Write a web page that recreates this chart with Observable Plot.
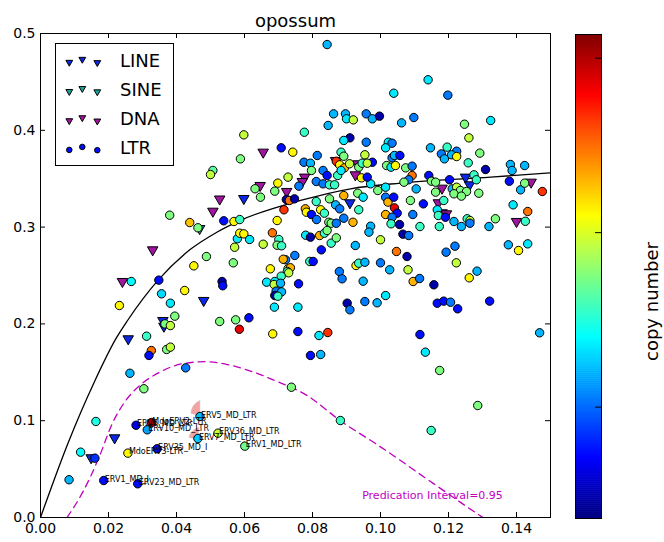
<!DOCTYPE html>
<html><head><meta charset="utf-8">
<script src="https://cdn.jsdelivr.net/npm/d3@7"></script>
<script src="https://cdn.jsdelivr.net/npm/@observablehq/plot@0.6"></script>
<style>html,body{margin:0;padding:0;background:#fff}#wrap{position:relative;width:664px;height:542px;overflow:hidden;font-family:"DejaVu Sans"}#wrap svg{position:absolute;top:0}</style>
</head><body><div id="wrap"></div>
<script>
// ---- data ----
const titleText = "opossum";
const xTicks = [0, 0.02, 0.04, 0.06, 0.08, 0.10, 0.12, 0.14];
const yTicks = [0, 0.1, 0.2, 0.3, 0.4, 0.5];
const cbTicks = [100, 1000, 10000];
const cbTickLabels = ["10²", "10³", "10⁴"];
const copyMin = 23, copyMax = 13670;
const colorbarLabel = "copy number";
const legendNames = ["LINE", "SINE", "DNA", "LTR"];

const ltrX = [0.0304,0.0163,0.0118,0.016,0.0084,0.0186,0.0286,0.0257,0.0343,0.0281,0.0326,0.0314,0.0469,0.0463,0.0522,0.0601,
0.0588,0.0507,0.05,0.038,0.0439,0.0463,0.0539,0.0569,0.0586,0.0579,0.0586,0.0571,0.0488,0.0567,0.0451,0.0267,0.0348,0.0534,0.0536,0.0424,0.0356,0.0382,0.0232,0.0395,0.0366,0.0382,0.0527,0.0574,0.0585,0.0312,0.0371,0.0382,0.0326,0.0319,0.0263,0.0427,0.0598,0.0598,0.0615,0.0613,
0.0843,0.0862,0.0897,0.09,0.092,0.0846,0.0776,0.091,0.0892,0.0708,0.0742,0.0814,0.0884,0.0892,0.0775,0.0794,0.0797,0.087,0.088,0.0894,0.0909,0.0936,0.0831,0.0843,0.0874,0.0884,0.0631,0.0647,0.0698,0.0728,0.0689,0.076,0.0811,0.0831,0.085,0.0865,0.0723,0.0732,0.0747,0.0716,0.0696,0.0811,0.085,0.0892,0.0933,0.0779,0.0782,0.0797,0.0824,0.0835,0.0812,0.0868,0.088,0.0892,0.0919,0.0936,0.0848,0.0855,0.087,
0.114,0.1039,0.1198,0.0958,0.0976,0.0997,0.1062,0.1098,0.1247,0.1324,0.126,0.0958,0.1023,0.1034,0.1015,0.1147,0.1196,0.1224,0.0976,0.1018,0.1031,0.1044,0.1034,0.1041,0.1057,0.1074,0.1093,0.0971,0.1093,0.1083,0.1142,0.1179,0.1188,0.1209,0.1224,0.1258,0.1292,0.1309,0.1275,0.1282,0.1203,0.115,0.1162,0.1162,0.1211,0.1224,0.1235,0.1253,0.1216,0.1238,0.1289,0.1105,0.1015,0.0992,0.1015,0.1022,0.1039,0.1088,0.1126,0.1186,0.1015,0.1041,0.1049,0.1034,0.1095,0.1116,0.1167,0.117,0.1191,0.1216,0.1255,0.1263,0.1338,0.1319,0.1069,0.1382,0.1387,0.1424,0.1379,0.1412,0.1424,0.1476,0.139,0.1433,0.1426,0.0954,0.0946,0.0961,0.0944,0.0961,0.0949,0.0971,0.1031,0.1056,0.1173,0.1238,0.1263,
0.0655,0.0682,0.0701,0.0696,0.0709,0.078,0.0794,0.0821,0.0835,0.0843,0.0855,0.087,0.0826,0.0748,0.0792,0.0802,0.0721,0.0714,0.0676,0.0728,0.0735,0.0726,0.073,0.0708,0.0665,0.0689,0.0687,0.0706,0.0693,0.0709,0.0689,0.0698,0.0759,0.0688,0.0757,0.0757,0.0683,0.0819,0.0845,0.0794,0.0824,0.0879,0.0887,0.0902,0.091,0.0928,0.0936,0.0926,
0.0966,0.1,0.1047,0.1078,0.0954,0.1,0.1027,0.1081,0.0949,0.1096,0.1115,0.1157,0.0954,0.099,0.1015,0.1167,0.1186,0.1206,0.1227,0.1193,0.1219,0.1223,0.1284,0.1261,0.1321,0.1376,0.1406,0.1433,0.1468,0.1116,0.1132,0.1066,0.1083,
0.1174,0.0738,0.0882,0.1286,0.1149];
const ltrY = [0.133,0.0992,0.0675,0.0613,0.039,0.0382,0.0348,0.0665,0.071,0.0953,0.0981,0.0906,0.1043,0.0816,0.0871,0.0737,
0.3705,0.3585,0.3543,0.3123,0.3047,0.2993,0.3065,0.3058,0.3078,0.288,0.2937,0.2792,0.2696,0.2631,0.26,0.2438,0.2452,0.2438,0.2394,0.2345,0.2311,0.2214,0.219,0.208,0.2,0.1983,0.2025,0.2042,0.1945,0.1873,0.1736,0.176,0.1725,0.1674,0.149,0.1546,0.3953,0.293,0.2872,0.2063,
0.4886,0.417,0.417,0.4119,0.4108,0.405,0.398,0.3922,0.3895,0.3819,0.3774,0.374,0.3774,0.3732,0.367,0.366,0.3585,0.368,0.3643,0.3612,0.3654,0.3619,0.3585,0.3533,0.3533,0.3585,0.3396,0.3309,0.3454,0.3516,0.3371,0.3423,0.3471,0.3447,0.3437,0.3437,0.3285,0.3275,0.3292,0.3179,0.3068,0.3264,0.3292,0.3326,0.335,0.3189,0.3154,0.313,0.3179,0.3144,0.3078,0.323,0.3189,0.3092,0.305,0.3179,0.305,0.304,0.304,
0.4522,0.4383,0.4363,0.417,0.4119,0.4146,0.4077,0.4132,0.4063,0.4101,0.3922,0.3877,0.3877,0.3867,0.3819,0.3819,0.3826,0.3784,0.367,0.3636,0.3619,0.3636,0.3716,0.374,0.374,0.3612,0.3629,0.3447,0.3533,0.3489,0.3533,0.3756,0.3705,0.3747,0.3729,0.3664,0.3764,0.3595,0.354,0.3489,0.3489,0.3474,0.3464,0.3361,0.3395,0.3412,0.3378,0.3368,0.3344,0.332,0.335,0.3395,0.3412,0.3378,0.3309,0.3258,0.3309,0.3275,0.324,0.3275,0.313,0.3199,0.3144,0.3102,0.313,0.3006,0.3179,0.312,0.3102,0.3058,0.3086,0.3068,0.3086,0.3006,0.3464,0.3647,0.3585,0.3636,0.3474,0.3385,0.3454,0.3368,0.323,0.3161,0.306,0.3747,0.366,0.366,0.3509,0.3516,0.3309,0.3009,0.3034,0.3027,0.3006,0.3006,0.304,
0.2823,0.2941,0.2872,0.2813,0.2807,0.2916,0.2896,0.2913,0.2937,0.2965,0.2834,0.2889,0.2765,0.2707,0.2645,0.2645,0.2662,0.2668,0.2569,0.2569,0.258,0.2541,0.2528,0.2493,0.2431,0.2438,0.2407,0.242,0.2338,0.2331,0.2293,0.2286,0.2414,0.2173,0.2173,0.1921,0.1897,0.188,0.1911,0.1674,0.1684,0.2541,0.2466,0.2214,0.2146,0.2603,0.2627,0.281,
0.2948,0.2869,0.2748,0.2696,0.2637,0.2631,0.2559,0.2559,0.2441,0.2438,0.2469,0.2404,0.2231,0.2218,0.2293,0.2214,0.2235,0.2224,0.2156,0.2741,0.2803,0.2631,0.2545,0.2476,0.2235,0.2817,0.2758,0.2827,0.1908,0.189,0.1708,0.2927,0.2913,
0.1519,0.1346,0.1002,0.1157,0.0899];
const ltrCopy = [560,300,250,70,160,55,55,1300,55,45,11000,140,170,180,900,500,
560,450,850,560,1800,560,55,1300,360,220,1300,850,560,560,1300,250,55,30,55,1300,200,220,1300,560,560,850,560,560,7000,360,560,850,3000,55,160,110,850,1300,220,55,
160,160,160,220,850,160,360,30,220,55,1300,110,360,560,110,160,560,4500,1300,2000,850,560,110,55,360,220,560,560,1300,850,560,110,110,110,360,360,30,3000,30,4500,1300,360,560,2000,560,2000,1300,55,1300,360,110,160,110,110,2000,360,560,560,110,
220,220,110,110,160,30,160,110,560,220,850,110,220,110,220,160,360,110,55,560,220,1300,110,160,55,560,110,220,3000,110,55,110,160,160,1300,360,560,30,360,360,55,560,560,560,160,850,560,560,560,560,560,160,220,560,110,2000,55,560,55,360,2000,7000,55,110,110,360,220,360,55,160,360,850,560,160,560,160,160,160,55,160,560,4500,220,3000,360,850,360,850,1300,55,220,160,360,30,360,160,110,
850,3000,360,560,360,220,30,2000,360,560,360,560,55,110,360,55,110,2000,1300,1300,2000,360,850,360,220,220,850,160,110,160,30,360,55,220,220,55,1300,220,4500,55,160,110,110,30,110,1300,360,160,
160,850,3000,30,160,110,160,850,160,2000,110,30,110,160,220,55,55,110,55,110,110,850,160,1300,55,160,1300,220,160,55,220,30,110,
560,560,360,560,360];

const lineX = [0.0218,0.0149,0.048,0.036,0.0363,0.0258,0.0598,0.091,0.125,0.1262];
const lineY = [0.0823,0.0617,0.2242,0.2035,0.1976,0.1846,0.3295,0.3251,0.3516,0.3437];
const sineX = [0.0468];
const sineY = [0.2985];
const dnaX = [0.0527,0.0507,0.033,0.0241,0.0655,0.0868,0.0933,0.0926,0.0646,0.0724,0.0777,0.077,0.1181,0.117,0.1181,0.1194,0.1443,0.14];
const dnaY = [0.329,0.3164,0.2765,0.2438,0.3774,0.3688,0.3654,0.354,0.343,0.3368,0.3516,0.3471,0.3402,0.3251,0.3148,0.3137,0.3464,0.3058];

// fitted curve and lower prediction bound
const fitX = [0,0.008,0.0157,0.0224,0.0255,0.0348,0.0441,0.052,0.0588,0.0765,0.0912,0.1059,0.1324,0.15];
const fitY = [0,0.076,0.139,0.186,0.203,0.246,0.277,0.295,0.307,0.3275,0.3396,0.3455,0.3516,0.356];
const lowX = [0.0078,0.0127,0.0172,0.0211,0.0245,0.0294,0.035,0.042,0.0485,0.055,0.062,0.0686,0.0784,0.0882,0.1,0.1156,0.1284,0.131];
const lowY = [0,0.028,0.062,0.097,0.118,0.137,0.150,0.159,0.161,0.158,0.151,0.142,0.126,0.100,0.073,0.035,0.004,-0.002];
const piText = "Predication Interval=0.95";
const piX = 0.0946, piY = 0.0193;

const labelNames = ["ERV5_MD_LTR","MdoERV2-LTR","ERV6_MD_LTR","ERV10_MD_LTR","ERV36_MD_LTR","ERV7_MD_LTR","ERV1_MD_LTR","ERV35_MD_I","MdoERV3-LTR","ERV1_MD_I","ERV23_MD_LTR"];
const labelX = [0.0469,0.0326,0.0281,0.0314,0.0522,0.0463,0.0601,0.0343,0.0257,0.0186,0.0286];
const labelY = [0.1043,0.0981,0.0953,0.0906,0.0871,0.0816,0.0737,0.071,0.0665,0.0382,0.0348];
const wedgeIdx = [0, 5, 6];

// ---- style ----
const FONT = "DejaVu Sans";
const W = 664, H = 542, mL = 40, mR = 114, mT = 33, mB = 25;
const pw = W - mL - mR, ph = H - mT - mB;
const LINEC = "#0a28e6", SINEC = "#1aa39a", DNAC = "#a0149f", MAG = "#bf00bf";

function jet(t) {
  const c = v => Math.max(0, Math.min(1, v));
  return d3.rgb(255 * c(1.5 - Math.abs(4 * t - 3)), 255 * c(1.5 - Math.abs(4 * t - 2)), 255 * c(1.5 - Math.abs(4 * t - 1))).formatHex();
}

const ltr = ltrX.map((x, i) => ({x, y: ltrY[i], c: ltrCopy[i]}));
const lines = lineX.map((x, i) => ({x, y: lineY[i]}));
const sines = sineX.map((x, i) => ({x, y: sineY[i]}));
const dnas = dnaX.map((x, i) => ({x, y: dnaY[i]}));
const fit = fitX.map((x, i) => ({x, y: fitY[i]}));
const low = lowX.map((x, i) => ({x, y: lowY[i]}));
const labels = labelNames.map((n, i) => ({n, x: labelX[i], y: labelY[i]}));

function drawPath(ctx, s) {
  const toks = s.match(/[MLCZ]|-?\d*\.?\d+/g);
  let i = 0, cmd = null;
  while (i < toks.length) {
    const t = toks[i];
    if (/[MLCZ]/.test(t)) { cmd = t; i++; if (cmd === "Z") ctx.closePath(); continue; }
    if (cmd === "M") { ctx.moveTo(+toks[i], +toks[i + 1]); i += 2; cmd = "L"; }
    else if (cmd === "L") { ctx.lineTo(+toks[i], +toks[i + 1]); i += 2; }
    else if (cmd === "C") { ctx.bezierCurveTo(+toks[i], +toks[i + 1], +toks[i + 2], +toks[i + 3], +toks[i + 4], +toks[i + 5]); i += 6; }
    else i++;
  }
}
const wedgePaths = [
  "M0,-1L-9,-3C-9,-9 -5,-14 0,-16Z",
  "M0,1L-9,-1C-8,-6 -4,-10 1,-11Z",
  "M0,-1L-4,-1C-4,-3 -2,-5 0,-5Z"
];
const wedgeMarks = wedgeIdx.map((k, j) => Plot.dot([{x: labelX[k], y: labelY[k]}], {
  x: "x", y: "y", r: 5, fill: "#f4a3a3", stroke: "#c8c8c8", strokeWidth: 0.5,
  symbol: {draw(ctx) { drawPath(ctx, wedgePaths[j]); }}
}));

const main = Plot.plot({
  width: W, height: H, marginLeft: mL, marginRight: mR, marginTop: mT, marginBottom: mB,
  style: {fontFamily: FONT, fontSize: "14px", background: "white", color: "black", overflow: "visible"},
  x: {domain: [0, 0.15]},
  y: {domain: [0, 0.5]},
  color: {type: "log", domain: [copyMin, copyMax], interpolate: jet},
  marks: [
    Plot.line(fit, {x: "x", y: "y", curve: "monotone-x", stroke: "black", strokeWidth: 1.3, clip: true}),
    Plot.line(low, {x: "x", y: "y", curve: "monotone-x", stroke: MAG, strokeWidth: 1.3, strokeDasharray: "7,5", clip: true}),
    ...wedgeMarks,
    Plot.dot(lines, {x: "x", y: "y", symbol: "triangle", rotate: 180, r: 3.9, fill: LINEC, stroke: "black", strokeWidth: 1}),
    Plot.dot(sines, {x: "x", y: "y", symbol: "triangle", rotate: 180, r: 3.9, fill: SINEC, stroke: "black", strokeWidth: 1}),
    Plot.dot(dnas, {x: "x", y: "y", symbol: "triangle", rotate: 180, r: 3.9, fill: DNAC, stroke: "black", strokeWidth: 1}),
    Plot.dot(ltr, {x: "x", y: "y", r: 4.2, fill: "c", stroke: "black", strokeWidth: 1}),
    Plot.text(labels, {x: "x", y: "y", text: "n", textAnchor: "start", lineAnchor: "bottom", dx: 1, dy: 1, fontSize: 8, fill: "black"}),
    Plot.text([piText], {x: [piX], y: [piY], text: d => d, textAnchor: "start", lineAnchor: "bottom", fontSize: 11, fill: MAG}),
    Plot.frame({stroke: "black", strokeWidth: 1}),
    Plot.tickX(xTicks.slice(1), {x: d => d, insetTop: ph - 5, stroke: "black"}),
    Plot.tickX(xTicks.slice(1), {x: d => d, insetBottom: ph - 5, stroke: "black"}),
    Plot.tickY(yTicks.slice(1, -1), {y: d => d, insetRight: pw - 5, stroke: "black"}),
    Plot.tickY(yTicks.slice(1, -1), {y: d => d, insetLeft: pw - 5, stroke: "black"}),
    Plot.axisX(xTicks, {tickSize: 0, tickPadding: 6, tickFormat: d3.format(".2f"), fontSize: 14, label: null}),
    Plot.axisY(yTicks, {tickSize: 0, tickPadding: 5, tickFormat: d3.format(".1f"), fontSize: 14, label: null}),
    Plot.text([titleText], {frameAnchor: "top", dy: -7, lineAnchor: "bottom", fontSize: 18, fill: "black"})
  ]
});

// legend (drawn into the main svg)
const svg = d3.select(main);
const lg = svg.append("g").attr("font-family", FONT).attr("text-anchor", "start");
lg.append("rect").attr("x", 55.5).attr("y", 43.5).attr("width", 118).attr("height", 122).attr("fill", "white").attr("stroke", "black");
const lgFill = [LINEC, SINEC, DNAC, jet((Math.log10(55) - Math.log10(copyMin)) / (Math.log10(copyMax) - Math.log10(copyMin)))];
const mxs = [69.3, 82.3, 97.3], moff = [0.5, -2.5, 0.8];
legendNames.forEach((name, k) => {
  const cy = 61.8 + 29.2 * k;
  mxs.forEach((mx, j) => {
    const isCircle = k === 3;
    const sym = d3.symbol().type(isCircle ? d3.symbolCircle : d3.symbolTriangle).size(isCircle ? 24 : 20)();
    lg.append("path").attr("d", sym)
      .attr("transform", `translate(${mx},${cy + moff[j]})` + (isCircle ? "" : " rotate(180)"))
      .attr("fill", lgFill[k]).attr("stroke", "black").attr("stroke-width", 1);
  });
  lg.append("text").attr("x", 120).attr("y", 66.7 + 29.1 * k).attr("font-size", 18).attr("fill", "black").attr("text-anchor", "start").text(name);
});

// colorbar
const cbW = 124, cbLeft = 540;
const nSteps = 240;
const lmin = Math.log10(copyMin), lmax = Math.log10(copyMax);
const steps = d3.range(nSteps).map(i => ({
  v0: Math.pow(10, lmin + (lmax - lmin) * i / nSteps),
  v1: Math.pow(10, lmin + (lmax - lmin) * Math.min(nSteps, i + 1.3) / nSteps),
  f: jet((i + 0.5) / nSteps)
}));
const cb = Plot.plot({
  width: cbW, height: H, marginLeft: 35, marginRight: 63, marginTop: 34, marginBottom: 24,
  style: {fontFamily: FONT, fontSize: "14px", background: "transparent", color: "black", overflow: "visible"},
  x: {domain: [0, 1], axis: null},
  y: {type: "log", domain: [copyMin, copyMax], axis: null},
  marks: [
    Plot.rect(steps, {x1: 0, x2: 1, y1: "v0", y2: "v1", fill: "f"}),
    Plot.frame({stroke: "black", strokeWidth: 1}),
    Plot.tickY(cbTicks, {y: d => d, insetLeft: 20, stroke: "black"}),
    Plot.axisY(cbTicks, {anchor: "right", tickSize: 0, tickPadding: 6, tickFormat: (d, i) => cbTickLabels[i], fontSize: 15, label: null}),
    Plot.text([colorbarLabel], {frameAnchor: "right", dx: 51, dy: 25, rotate: -90, lineAnchor: "middle", textAnchor: "middle", fontSize: 18, fill: "black"})
  ]
});
cb.style.left = cbLeft + "px";
const wrap = document.getElementById("wrap");
main.style.left = "0px";
wrap.appendChild(main);
wrap.appendChild(cb);
</script>
</body></html>
